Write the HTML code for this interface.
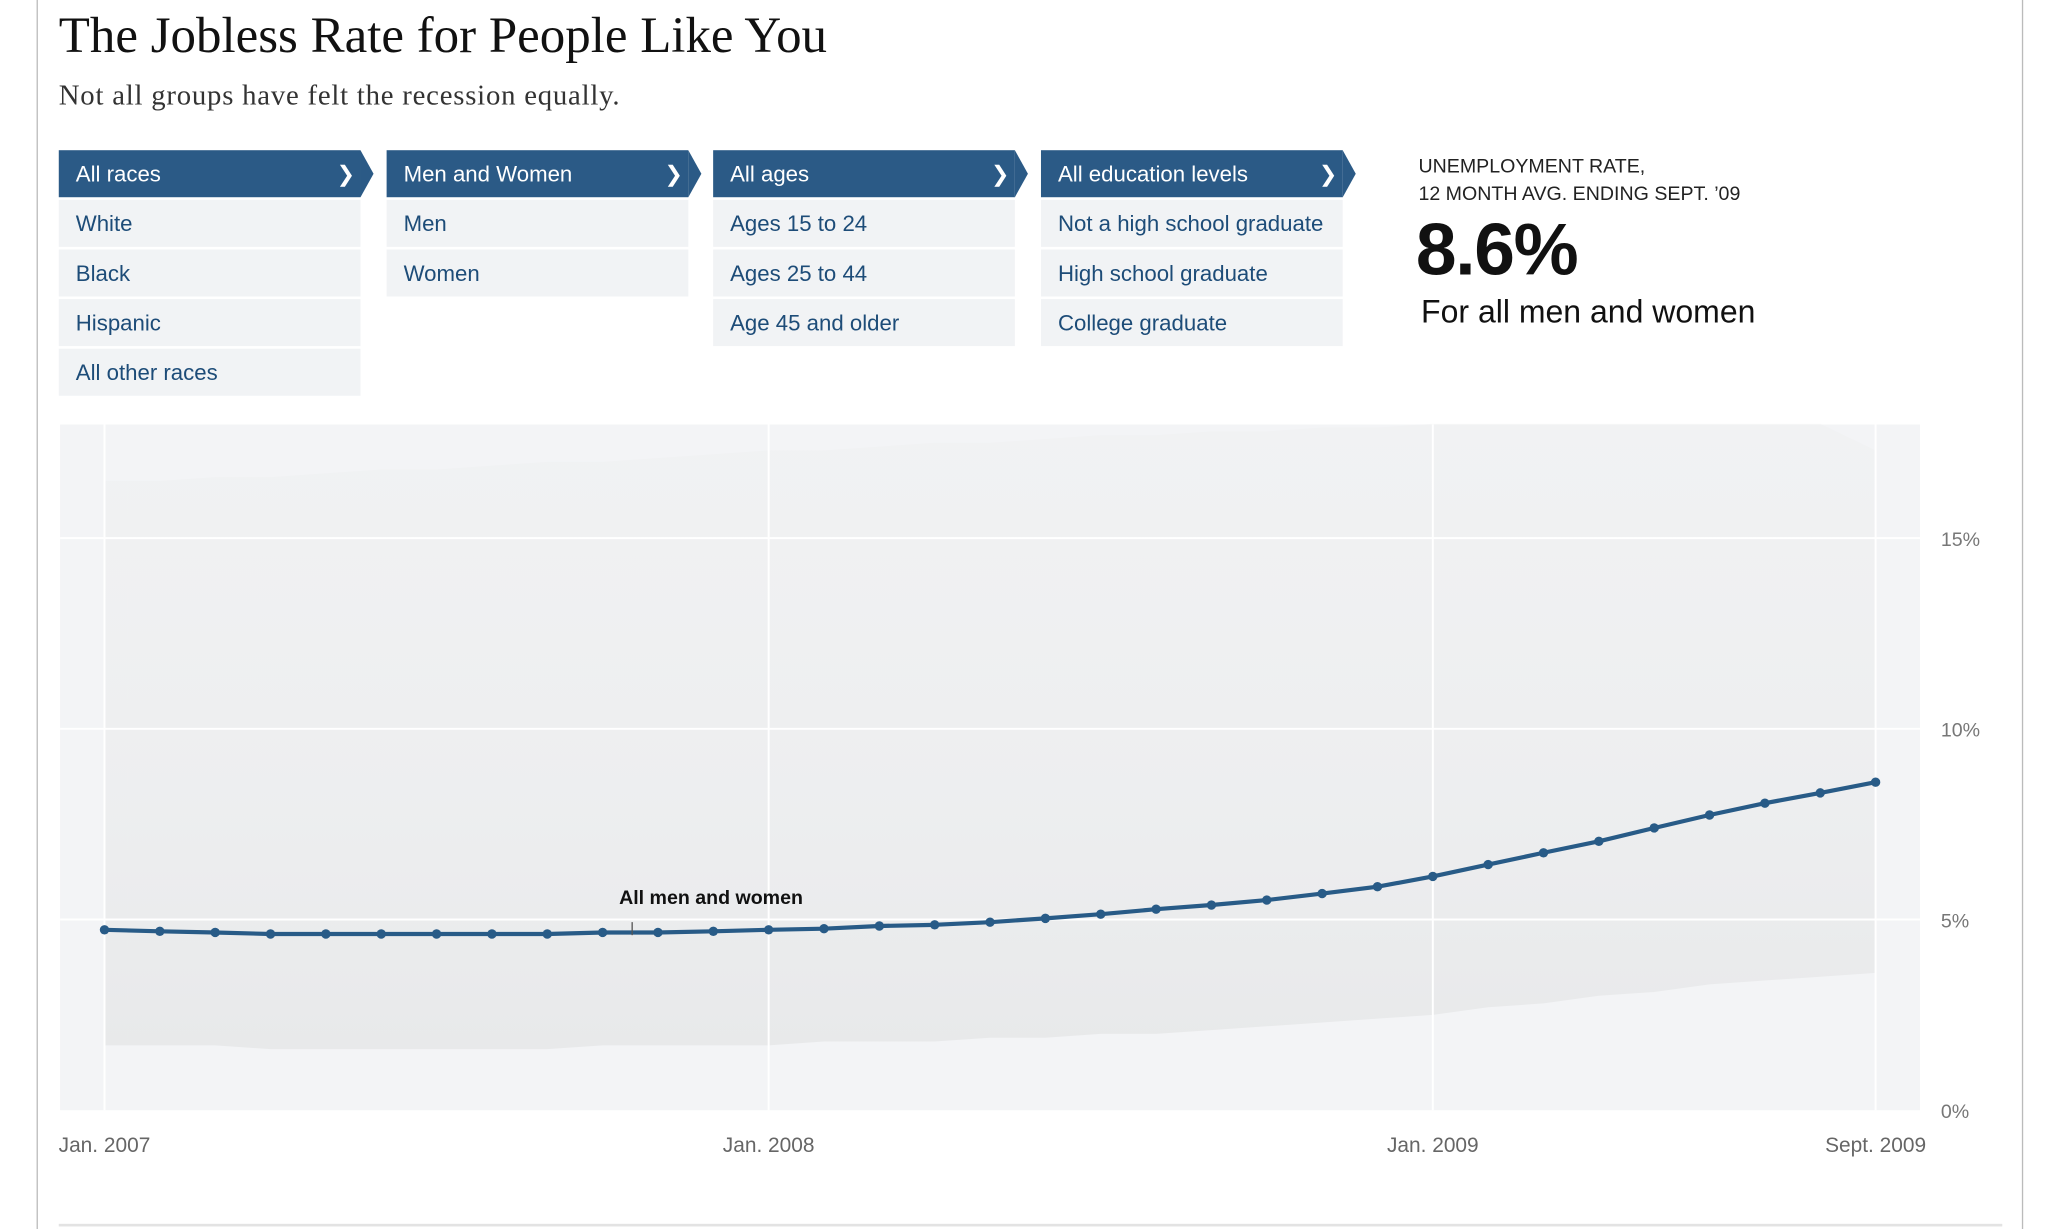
<!DOCTYPE html>
<html><head><meta charset="utf-8">
<style>
html,body{margin:0;padding:0;background:#fff;width:2048px;height:1229px;overflow:hidden}
#wrap{position:absolute;left:0;top:0;width:1568px;height:941px;transform:scale(1.306122);transform-origin:0 0;font-family:"Liberation Sans",Arial,sans-serif}
.abs{position:absolute}
#title{left:45px;top:5px;font-family:"Liberation Serif",serif;font-size:39px;color:#111;white-space:nowrap}
#sub{left:45px;top:60px;font-family:"Liberation Serif",serif;font-size:22px;letter-spacing:0.6px;color:#333;white-space:nowrap}
.col{position:absolute;top:115px;width:231px}
.hdr{position:relative;height:36px;background:#2b5a86;color:#fff;font-size:17px;line-height:38px;padding-left:13px;box-sizing:border-box}
.hdr:after{content:"";position:absolute;right:-10px;top:0;border-left:10px solid #2b5a86;border-top:18px solid transparent;border-bottom:18px solid transparent}
.hdr .chev{position:absolute;right:4px;top:0;font-size:17px;color:#fff}
.item{height:36px;margin-top:2px;background:#f1f3f5;color:#1d4c78;font-size:17px;line-height:38px;padding-left:13px;box-sizing:border-box}
</style></head><body>
<div id="wrap">
<div class="abs" style="left:28px;top:0;width:1px;height:941px;background:#bbb"></div>
<div class="abs" style="left:1548px;top:0;width:1px;height:941px;background:#bbb"></div>
<div class="abs" style="left:45px;top:937px;width:1488px;height:2px;background:#e3e3e3"></div>
<div id="title" class="abs">The Jobless Rate for People Like You</div>
<div id="sub" class="abs">Not all groups have felt the recession equally.</div>

<div class="col" style="left:45px">
<div class="hdr">All races<span class="chev">&#x276F;</span></div>
<div class="item">White</div>
<div class="item">Black</div>
<div class="item">Hispanic</div>
<div class="item">All other races</div>
</div>
<div class="col" style="left:296px">
<div class="hdr">Men and Women<span class="chev">&#x276F;</span></div>
<div class="item">Men</div>
<div class="item">Women</div>
</div>
<div class="col" style="left:546px">
<div class="hdr">All ages<span class="chev">&#x276F;</span></div>
<div class="item">Ages 15 to 24</div>
<div class="item">Ages 25 to 44</div>
<div class="item">Age 45 and older</div>
</div>
<div class="col" style="left:797px">
<div class="hdr">All education levels<span class="chev">&#x276F;</span></div>
<div class="item">Not a high school graduate</div>
<div class="item">High school graduate</div>
<div class="item">College graduate</div>
</div>

<div class="abs" style="left:1086px;top:117px;font-size:15px;line-height:21px;color:#222">UNEMPLOYMENT RATE,<br>12 MONTH AVG. ENDING SEPT. ’09</div>
<div class="abs" style="left:1084px;top:158px;font-size:56px;font-weight:bold;color:#111;letter-spacing:-1px">8.6%</div>
<div class="abs" style="left:1088px;top:226px;font-size:24.5px;color:#111">For all men and women</div>

<svg class="abs" style="left:0;top:0" width="1568" height="941">
<defs><linearGradient id="fade" x1="0" y1="0" x2="0" y2="1"><stop offset="0" stop-color="#eceded" stop-opacity="0.3"/><stop offset="0.6" stop-color="#e9eaeb" stop-opacity="0.6"/><stop offset="1" stop-color="#e6e7e8" stop-opacity="0.85"/></linearGradient></defs>
<rect x="46" y="325" width="1424" height="525" fill="#f3f4f6"/>
<g id="band"></g>
<g id="grid"></g>
<g id="series"></g>
<g id="axes"></g>
</svg>
</div>
<script>
const months=["Jan. 2007","Feb. 2007","Mar. 2007","Apr. 2007","May 2007","Jun. 2007","Jul. 2007","Aug. 2007","Sep. 2007","Oct. 2007","Nov. 2007","Dec. 2007","Jan. 2008","Feb. 2008","Mar. 2008","Apr. 2008","May 2008","Jun. 2008","Jul. 2008","Aug. 2008","Sep. 2008","Oct. 2008","Nov. 2008","Dec. 2008","Jan. 2009","Feb. 2009","Mar. 2009","Apr. 2009","May 2009","Jun. 2009","Jul. 2009","Aug. 2009","Sept. 2009"];
const allRates=[4.73,4.69,4.66,4.62,4.62,4.62,4.62,4.62,4.62,4.66,4.66,4.69,4.73,4.76,4.83,4.86,4.93,5.03,5.14,5.27,5.38,5.51,5.68,5.86,6.13,6.44,6.75,7.05,7.40,7.74,8.05,8.32,8.60];
const otherGroupsLow=[1.7,1.7,1.7,1.6,1.6,1.6,1.6,1.6,1.6,1.7,1.7,1.7,1.7,1.8,1.8,1.8,1.9,1.9,2.0,2.0,2.1,2.2,2.3,2.4,2.5,2.7,2.8,3.0,3.1,3.3,3.4,3.5,3.6];
const otherGroupsHigh=[16.5,16.5,16.6,16.6,16.7,16.8,16.8,16.9,17.0,17.0,17.1,17.2,17.3,17.3,17.4,17.5,17.5,17.6,17.7,17.7,17.8,17.8,17.9,17.9,18.0,18.0,18.0,18.0,18.0,18.0,18.0,18.0,17.3];
const yTicks=[0,5,10,15];
const yTickLabels=["0%","5%","10%","15%"];
const xTickIdx=[0,12,24,32];
const xTickLabels=["Jan. 2007","Jan. 2008","Jan. 2009","Sept. 2009"];
const NS="http://www.w3.org/2000/svg";
const x=i=>80+i*(1436-80)/(months.length-1);
const y=v=>850-v*29.2;
function mk(tag,attrs,parent){const e=document.createElementNS(NS,tag);for(const k in attrs)e.setAttribute(k,attrs[k]);document.getElementById(parent).appendChild(e);return e;}
let pts=otherGroupsHigh.map((v,i)=>x(i)+","+y(v)).concat(otherGroupsLow.map((v,i)=>[i,v]).reverse().map(([i,v])=>x(i)+","+y(v)));
let band=mk("polygon",{points:pts.join(" "),fill:"url(#fade)"},"band");


yTicks.forEach((t,k)=>{
  if(t>0){let l=mk("line",{x1:46,x2:1470,y1:y(t),y2:y(t),stroke:"#fff","stroke-width":1.5},"grid");
  
  }
  let tx=mk("text",{x:1486,y:y(t)+6,"font-size":15,fill:"#777","font-family":"Liberation Sans, sans-serif"},"axes");
  tx.textContent=yTickLabels[k];
  
  
});
xTickIdx.forEach((i,k)=>{
  let l=mk("line",{x1:x(i),x2:x(i),y1:325,y2:850,stroke:"#fff","stroke-width":1.5},"grid");
  
  
  let tx=mk("text",{x:x(i),y:882,"font-size":16,fill:"#666","text-anchor":"middle","font-family":"Liberation Sans, sans-serif"},"axes");
  tx.textContent=xTickLabels[k];
  
  
});
let line=mk("polyline",{points:allRates.map((v,i)=>x(i)+","+y(v)).join(" "),fill:"none",stroke:"#285b87","stroke-width":3.2,"stroke-linejoin":"round"},"series");


allRates.forEach((v,i)=>{
  let c=mk("circle",{cx:x(i),cy:y(v),r:3.6,fill:"#285b87"},"series");
  
  
});
let tick=mk("line",{x1:484,x2:484,y1:706,y2:716,stroke:"#555","stroke-width":1},"series");


let lab=mk("text",{x:474,y:692,"font-size":15,"font-weight":"bold",fill:"#111","font-family":"Liberation Sans, sans-serif"},"series");
lab.textContent="All men and women";


</script>
</body></html>
